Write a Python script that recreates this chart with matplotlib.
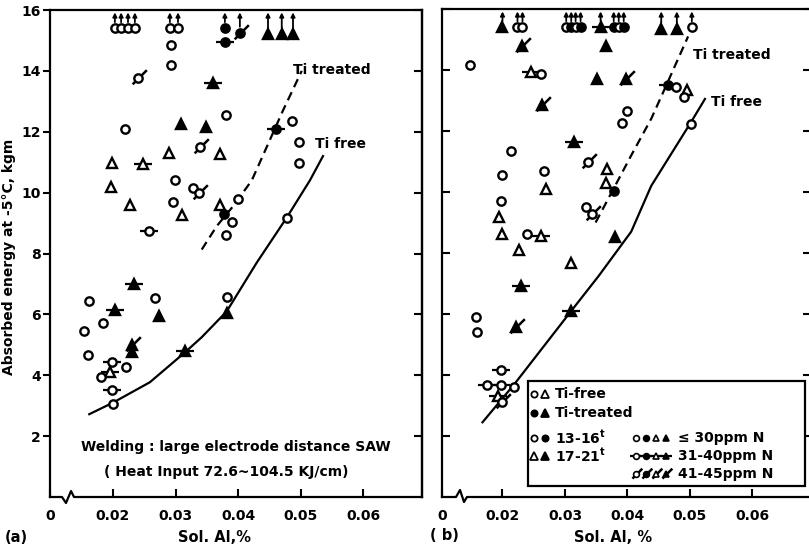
import matplotlib.pyplot as plt
from matplotlib.path import Path
from matplotlib.patches import Rectangle

plt.rcParams['font.family'] = ['DejaVu Sans']
plt.rcParams['font.weight'] = 'bold'

W, H = 809, 548

# kinds: o = Ti-free 13-16t, O = Ti-treated 13-16t, t = Ti-free 17-21t, T = Ti-treated 17-21t
# nclass: 0 <=30ppm N, 1 31-40ppm N (bar), 2 41-45ppm N (slash); up = not broken (arrow)
a_al = [0.0203, 0.0213, 0.0224, 0.0235, 0.0291, 0.0304, 0.0379, 0.0403, 0.0448, 0.0470, 0.0488,
        0.0379, 0.0293, 0.0293, 0.0240, 0.0360, 0.0219, 0.0309, 0.0349, 0.0381, 0.0486, 0.0461,
        0.0498, 0.0498, 0.0339, 0.0290, 0.0371, 0.0198, 0.0248, 0.0197, 0.0299, 0.0328, 0.0338,
        0.0400, 0.0227, 0.0296, 0.0371, 0.0310, 0.0377, 0.0390, 0.0381, 0.0258, 0.0479, 0.0162,
        0.0203, 0.0234, 0.0267, 0.0274, 0.0382, 0.0382, 0.0154, 0.0184, 0.0160, 0.0230, 0.0230,
        0.0315, 0.0198, 0.0221, 0.0195, 0.0181, 0.0198, 0.0200]
a_energy = [15.4, 15.4, 15.4, 15.4, 15.4, 15.4, 15.4, 15.25, 15.2, 15.2, 15.2,
            14.95, 14.85, 14.2, 13.75, 13.6, 12.1, 12.25, 12.15, 12.55, 12.35, 12.1,
            11.67, 10.98, 11.5, 11.3, 11.28, 10.98, 10.95, 10.2, 10.43, 10.15, 10.0,
            9.8, 9.6, 9.7, 9.6, 9.25, 9.3, 9.05, 8.6, 8.73, 9.17, 6.45,
            6.14, 7.0, 6.55, 5.95, 6.57, 6.03, 5.45, 5.73, 4.68, 5.0, 4.75,
            4.8, 4.42, 4.27, 4.1, 3.93, 3.5, 3.05]
a_kind = ['o', 'o', 'o', 'o', 'o', 'o', 'O', 'O', 'T', 'T', 'T',
          'O', 'o', 'o', 'o', 'T', 'o', 'T', 'T', 'o', 'o', 'O',
          'o', 'o', 'o', 't', 't', 't', 't', 't', 'o', 'o', 'o',
          'o', 't', 'o', 't', 't', 'O', 'o', 'o', 'o', 'o', 'o',
          'T', 'T', 'o', 'T', 'o', 'T', 'o', 'o', 'o', 'T', 'T',
          'T', 'o', 'o', 't', 'o', 'o', 'o']
a_nclass = [0, 0, 0, 0, 0, 0, 0, 2, 0, 0, 0,
            1, 0, 0, 2, 1, 0, 0, 0, 0, 0, 1,
            0, 0, 2, 0, 0, 0, 1, 0, 0, 0, 2,
            0, 0, 0, 0, 0, 0, 0, 0, 1, 0, 0,
            1, 1, 0, 0, 0, 0, 0, 0, 0, 2, 0,
            1, 1, 0, 1, 0, 1, 0]
a_up = [1] * 11 + [0] * 51

b_al = [0.0200, 0.0224, 0.0232, 0.0302, 0.0310, 0.0317, 0.0325, 0.0357, 0.0378, 0.0386, 0.0394,
        0.0454, 0.0479, 0.0503,
        0.0232, 0.0365, 0.0148, 0.0246, 0.0262, 0.0352, 0.0398, 0.0465, 0.0478, 0.0495, 0.0490,
        0.0263, 0.0400, 0.0392, 0.0502, 0.0314, 0.0214, 0.0337, 0.0368, 0.0200, 0.0267, 0.0365,
        0.0270, 0.0378, 0.0198, 0.0333, 0.0343, 0.0195, 0.0200, 0.0240, 0.0262, 0.0380, 0.0227,
        0.0310, 0.0230, 0.0310, 0.0157, 0.0159, 0.0222, 0.0198, 0.0176, 0.0197, 0.0219, 0.0193,
        0.0200]
b_energy = [15.4, 15.4, 15.4, 15.4, 15.4, 15.4, 15.4, 15.4, 15.4, 15.4, 15.4,
            15.35, 15.35, 15.4,
            14.8, 14.8, 14.15, 13.95, 13.87, 13.72, 13.72, 13.5, 13.45, 13.35, 13.1,
            12.85, 12.67, 12.27, 12.23, 11.63, 11.35, 10.98, 10.75, 10.56, 10.69, 10.3,
            10.1, 10.03, 9.7, 9.5, 9.28, 9.17, 8.62, 8.62, 8.55, 8.53, 8.1,
            7.67, 6.92, 6.1, 5.9, 5.4, 5.57, 4.16, 3.67, 3.67, 3.6, 3.3,
            3.1]
b_kind = ['T', 'o', 'o', 'o', 'O', 'o', 'O', 'T', 'O', 'o', 'O',
          'T', 'T', 'o',
          'T', 'T', 'o', 't', 'o', 'T', 'T', 'O', 'o', 't', 'o',
          'T', 'o', 'o', 'o', 'T', 'o', 'o', 't', 'o', 'o', 't',
          't', 'O', 'o', 'o', 'o', 't', 't', 'o', 't', 'T', 't',
          't', 'T', 'T', 'o', 'o', 'T', 'o', 'o', 'o', 'o', 't',
          'o']
b_nclass = [0, 0, 0, 0, 0, 0, 0, 1, 0, 0, 0,
            0, 0, 0,
            2, 0, 0, 1, 0, 0, 2, 1, 0, 0, 0,
            2, 0, 0, 0, 1, 0, 2, 0, 0, 0, 0,
            0, 0, 0, 0, 2, 0, 0, 0, 1, 0, 0,
            0, 1, 1, 0, 0, 2, 1, 1, 1, 0, 1,
            2]
b_up = [1] * 14 + [0] * 45

a_treated_al = [0.0342, 0.0366, 0.0392, 0.0422, 0.0446, 0.0472, 0.0502]
a_treated_e = [8.13, 8.9, 9.55, 10.4, 11.5, 12.7, 14.0]
a_free_al = [0.0162, 0.0200, 0.0259, 0.0315, 0.0342, 0.0382, 0.0430, 0.0478, 0.0515, 0.0536]
a_free_e = [2.72, 3.1, 3.77, 4.75, 5.25, 6.1, 7.7, 9.18, 10.4, 11.2]
b_treated_al = [0.0349, 0.0375, 0.0406, 0.0438, 0.0460, 0.0497]
b_treated_e = [9.0, 10.0, 11.2, 12.4, 13.4, 15.1]
b_free_al = [0.0168, 0.0219, 0.0310, 0.0354, 0.0406, 0.0438, 0.0502, 0.0524]
b_free_e = [2.45, 3.7, 6.1, 7.25, 8.7, 10.2, 12.3, 13.05]

x_ticks = [0.02, 0.03, 0.04, 0.05, 0.06]
x_ticklabels = ['0.02', '0.03', '0.04', '0.05', '0.06']
y_ticks = [2, 4, 6, 8, 10, 12, 14, 16]

SLASH = Path([(-0.7, -0.7), (1, 1)], [Path.MOVETO, Path.LINETO])


def fx(px):
    return px / W


def fy(py):
    return 1 - py / H


def mark(ax, x, y, kind, ncls, tr=None, z=3, s=1.0):
    kw = {} if tr is None else {'transform': tr}
    shape = 'o' if kind in 'oO' else '^'
    face = 'k' if kind in 'OT' else 'white'
    ms = (6 if shape == 'o' else 7) * s
    if ncls == 1:
        ax.plot([x], [y], marker='_', ms=13 * s, mew=1.6, color='k', zorder=z, clip_on=False, **kw)
    elif ncls == 2:
        ax.plot([x], [y], marker=SLASH, ms=12 * s, mew=1.8, color='k', zorder=z, clip_on=False, **kw)
    ax.plot([x], [y], marker=shape, ms=ms, mfc=face, mec='k', mew=1.7 * s, ls='none',
            zorder=z + 1, clip_on=False, **kw)


def draw_panel(ax, al, energy, kind, ncls, up):
    for x, y, k, n, u in zip(al, energy, kind, ncls, up):
        mark(ax, x, y, k, n)
        if u:
            ax.annotate('', xy=(x, 15.92), xytext=(x, y + 0.2),
                        arrowprops=dict(arrowstyle='-|>', lw=1.3, color='k',
                                        mutation_scale=6, shrinkA=0, shrinkB=0))


def frame(ax, x0, zig):
    ax.set_xlim(x0, ax.get_xlim()[1])
    ax.set_ylim(0, 16)
    for s in ax.spines.values():
        s.set_linewidth(1.6)
    ax.spines['bottom'].set_visible(False)
    ax.plot(zig[0], zig[1], color='k', lw=1.6, transform=ax.transAxes, clip_on=False)
    ax.set_xticks([x0] + x_ticks)
    ax.set_xticklabels(['0'] + x_ticklabels)
    ax.tick_params(axis='x', direction='in', length=6, width=1.5, pad=9, labelsize=10)
    ax.set_yticks(y_ticks)


fig = plt.figure(figsize=(W / 100, H / 100), dpi=100)

# panel (a)
ax_a = fig.add_axes([fx(50), fy(497), (422 - 50) / W, (497 - 10) / H])
ax_a.set_xlim(0.00992, 0.06944)
wa = 372.0
ha = 487.0
frame(ax_a, 0.00992, ([0, 12 / wa, 16 / wa, 21 / wa, 24 / wa, 1],
                      [0, 0, -6 / ha, 6 / ha, 0, 0]))
ax_a.tick_params(axis='y', direction='out', length=5, width=1.5, pad=1.5, labelsize=10)
sec = ax_a.secondary_yaxis('right')
sec.set_yticks(y_ticks)
sec.set_yticklabels([])
sec.tick_params(direction='in', length=6, width=1.5)
sec.spines['right'].set_linewidth(1.6)

draw_panel(ax_a, a_al, a_energy, a_kind, a_nclass, a_up)
ln, = ax_a.plot(a_treated_al, a_treated_e, color='k', lw=1.6)
ln.set_dashes([4, 2.5])
ax_a.plot(a_free_al, a_free_e, color='k', lw=1.6)
ax_a.text(0.0488, 14.03, 'Ti treated', fontsize=10, va='center', ha='left')
ax_a.text(0.0523, 11.6, 'Ti free', fontsize=10, va='center', ha='left')

# panel (b)
ax_b = fig.add_axes([fx(442), fy(497), (811 - 442) / W, (497 - 9) / H])
ax_b.set_xlim(0.01032, 0.06937)
wb = 369.0
frame(ax_b, 0.01032, ([0, 14 / wb, 18 / wb, 22 / wb, 25 / wb, 1],
                      [0, 0, 7 / ha, -5 / ha, 0, 0]))
ax_b.tick_params(axis='y', direction='in', length=6, width=1.5, left=True, right=True,
                 labelleft=False)

draw_panel(ax_b, b_al, b_energy, b_kind, b_nclass, b_up)
ln, = ax_b.plot(b_treated_al, b_treated_e, color='k', lw=1.6)
ln.set_dashes([4, 2.5])
ax_b.plot(b_free_al, b_free_e, color='k', lw=1.6)
ax_b.text(0.0505, 14.5, 'Ti treated', fontsize=10, va='center', ha='left')
ax_b.text(0.0533, 12.95, 'Ti free', fontsize=10, va='center', ha='left')

# legend box in (b)
ax_b.add_patch(Rectangle((fx(528), fy(486)), (805 - 528) / W, (486 - 381) / H,
                         transform=fig.transFigure, facecolor='white',
                         edgecolor='k', lw=1.6, zorder=8, clip_on=False))
leg_rows = [394, 413, 438, 456, 474]
left_marks = [[('o', 0), ('t', 0)], [('O', 0), ('T', 0)], [('o', 0), ('O', 0)], [('t', 0), ('T', 0)]]
left_text = ['Ti-free', 'Ti-treated', '13-16$^{\\mathbf{t}}$', '17-21$^{\\mathbf{t}}$']
for row, marks, txt in zip(leg_rows, left_marks, left_text):
    for px, (k, n) in zip([534, 545], marks):
        mark(ax_b, fx(px), fy(row), k, n, tr=fig.transFigure, z=10, s=0.75)
    ax_b.text(fx(555), fy(row), txt, fontsize=10, va='center', ha='left', zorder=12,
              transform=fig.transFigure)
right_text = ['\u2264 30ppm N', '31-40ppm N', '41-45ppm N']
for i, (row, txt) in enumerate(zip(leg_rows[2:], right_text)):
    for px, k in zip([636, 646, 656, 666], ['o', 'O', 't', 'T']):
        mark(ax_b, fx(px), fy(row), k, i, tr=fig.transFigure, z=10, s=0.7)
    ax_b.text(fx(678), fy(row), txt, fontsize=10, va='center', ha='left', zorder=12,
              transform=fig.transFigure)

# texts
fig.text(fx(236), fy(447), 'Welding : large electrode distance SAW', fontsize=10,
         ha='center', va='center')
fig.text(fx(226), fy(472), '( Heat Input 72.6~104.5 KJ/cm)', fontsize=10,
         ha='center', va='center')
fig.text(fx(9), fy(257), 'Absorbed energy at -5\u00b0C, kgm', fontsize=10,
         rotation=90, ha='center', va='center')
fig.text(fx(215), fy(537), 'Sol. Al,%', fontsize=10.5, ha='center', va='center')
fig.text(fx(613), fy(537), 'Sol. Al, %', fontsize=10.5, ha='center', va='center')
fig.text(fx(16), fy(537), '(a)', fontsize=10.5, ha='center', va='center')
fig.text(fx(444), fy(536), '( b)', fontsize=10.5, ha='center', va='center')

fig.savefig('out.png', dpi=100)
